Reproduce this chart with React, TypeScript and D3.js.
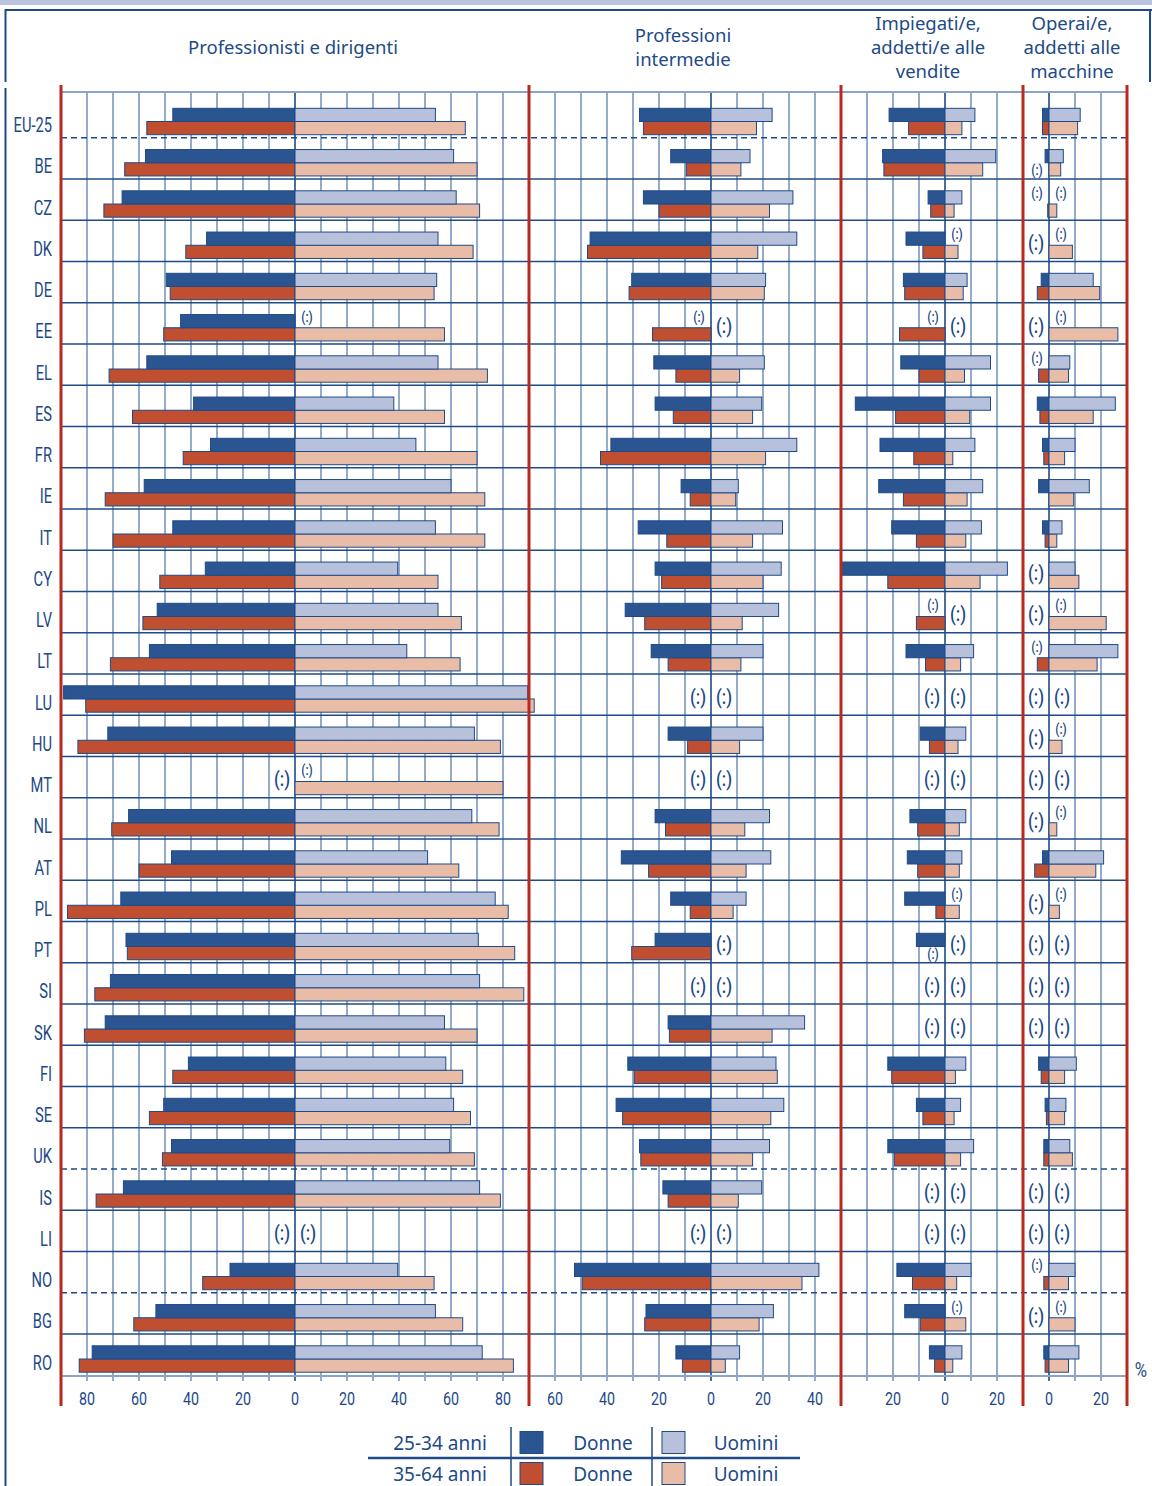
import React from "react";
import * as d3 from "d3";

// ---------- DATA ----------
const countries = [
  "EU-25", "BE", "CZ", "DK", "DE", "EE", "EL", "ES", "FR", "IE", "IT", "CY", "LV", "LT", "LU",
  "HU", "MT", "NL", "AT", "PL", "PT", "SI", "SK", "FI", "SE", "UK", "IS", "LI", "NO", "BG", "RO",
];
const dashedAfter = ["EU-25", "UK", "NO"];

const panelTitles = [
  ["Professionisti e dirigenti"],
  ["Professioni", "intermedie"],
  ["Impiegati/e,", "addetti/e alle", "vendite"],
  ["Operai/e,", "addetti alle", "macchine"],
];
const panelDomains: [number, number][] = [[-90, 90], [-70, 50], [-40, 30], [-10, 30]];
const panelTicks = [
  [-80, -60, -40, -20, 0, 20, 40, 60, 80],
  [-60, -40, -20, 0, 20, 40],
  [-20, 0, 20],
  [0, 20],
];

type V = number | null;
const _ = null;

// Panel 1: Professionisti e dirigenti
const p1Women2534: V[] = [47, 57.5, 66.5, 34, 49.5, 44, 57, 39, 32.5, 58, 47, 34.5, 53, 56, 89, 72, _, 64, 47.5, 67, 65, 71, 73, 41, 50.5, 47.5, 66, _, 25, 53.5, 78];
const p1Men2534: V[] = [54, 61, 62, 55, 54.5, _, 55, 38, 46.5, 60, 54, 39.5, 55, 43, 89.5, 69, _, 68, 51, 77, 70.5, 71, 57.5, 58, 61, 59.5, 71, _, 39.5, 54, 72];
const p1Women3564: V[] = [57, 65.5, 73.5, 42, 48, 50.5, 71.5, 62.5, 43, 73, 70, 52, 58.5, 71, 80.5, 83.5, _, 70.5, 60, 87.5, 64.5, 77, 81, 47, 56, 51, 76.5, _, 35.5, 62, 83];
const p1Men3564: V[] = [65.5, 70, 71, 68.5, 53.5, 57.5, 74, 57.5, 70, 73, 73, 55, 64, 63.5, 92, 79, 80, 78.5, 63, 82, 84.5, 88, 70, 64.5, 67.5, 69, 79, _, 53.5, 64.5, 84];

// Panel 2: Professioni intermedie
const p2Women2534: V[] = [27.5, 15.5, 26, 46.5, 30.5, _, 22, 21.5, 38.5, 11.5, 28, 21.5, 33, 23, _, 16.5, _, 21.5, 34.5, 15.5, 21.5, _, 16.5, 32, 36.5, 27.5, 18.5, _, 52.5, 25, 13.5];
const p2Men2534: V[] = [23.5, 15, 31.5, 33, 21, _, 20.5, 19.5, 33, 10.5, 27.5, 27, 26, 20, _, 20, _, 22.5, 23, 13.5, _, _, 36, 25, 28, 22.5, 19.5, _, 41.5, 24, 11];
const p2Women3564: V[] = [26, 9.5, 20, 47.5, 31.5, 22.5, 13.5, 14.5, 42.5, 8, 17, 19, 25.5, 16.5, _, 9, _, 17.5, 24, 8, 30.5, _, 16, 29.5, 34, 27, 16.5, _, 49.5, 25.5, 11];
const p2Men3564: V[] = [17.5, 11.5, 22.5, 18, 20.5, _, 11, 16, 21, 9.5, 16, 20, 12, 11.5, _, 11, _, 13, 13.5, 8.5, _, _, 23.5, 25.5, 23, 16, 10.5, _, 35, 18.5, 5.5];

// Panel 3: Impiegati/e, addetti/e alle vendite
const p3Women2534: V[] = [21.5, 24, 6.5, 15, 16, _, 17, 34.5, 25, 25.5, 20.5, 40, _, 15, _, 9.5, _, 13.5, 14.5, 15.5, 11, _, _, 22, 11, 22, _, _, 18.5, 15.5, 6];
const p3Men2534: V[] = [11.5, 19.5, 6.5, _, 8.5, _, 17.5, 17.5, 11.5, 14.5, 14, 24, _, 11, _, 8, _, 8, 6.5, _, _, _, _, 8, 6, 11, _, _, 10, _, 6.5];
const p3Women3564: V[] = [14, 23.5, 5.5, 8.5, 15.5, 17.5, 10, 19, 12, 16, 11, 22, 11, 7.5, _, 6, _, 10.5, 10.5, 3.5, _, _, _, 20.5, 8.5, 19.5, _, _, 12.5, 9.5, 4];
const p3Men3564: V[] = [6.5, 14.5, 3.5, 5, 7, _, 7.5, 9.5, 3, 8.5, 8, 13.5, _, 6, _, 5, _, 5.5, 5.5, 5.5, _, _, _, 4, 3.5, 6, _, _, 4.5, 8, 3];

// Panel 4: Operai/e, addetti alle macchine
const p4Women2534: V[] = [2.5, 1.5, _, _, 3, _, _, 4.5, 2.5, 4, 2.5, _, _, _, _, _, _, _, 2.5, _, _, _, _, 4, 1.5, 2, _, _, _, _, 2];
const p4Men2534: V[] = [12, 5.5, _, _, 17, _, 8, 25.5, 10, 15.5, 5, 10, _, 26.5, _, _, _, _, 21, _, _, _, _, 10.5, 6.5, 8, _, _, 10, _, 11.5];
const p4Women3564: V[] = [2.5, _, 0.5, _, 4.5, _, 4, 3.5, 2, 0, 1.5, _, _, 4.5, _, _, _, _, 5.5, _, _, _, _, 3, 1, 2, _, _, 2, _, 1.5];
const p4Men3564: V[] = [11, 4.5, 3, 9, 19.5, 26.5, 7.5, 17, 6, 9.5, 3, 11.5, 22, 18.5, _, 5, _, 3, 18, 4, _, _, _, 6, 6, 9, _, _, 7.5, 10, 7.5];

const legendAges = ["25-34 anni", "35-64 anni"];
const legendSexes = ["Donne", "Uomini"];

const panelSeries = [
  { w1: p1Women2534, m1: p1Men2534, w2: p1Women3564, m2: p1Men3564 },
  { w1: p2Women2534, m1: p2Men2534, w2: p2Women3564, m2: p2Men3564 },
  { w1: p3Women2534, m1: p3Men2534, w2: p3Women3564, m2: p3Men3564 },
  { w1: p4Women2534, m1: p4Men2534, w2: p4Women3564, m2: p4Men3564 },
];

// ---------- STYLE ----------
const C = {
  text: "#1d4a87",
  darkBlue: "#2b5591",
  lightBlue: "#b8c1dc",
  red: "#c04f32",
  pink: "#e9bca8",
  barStroke: "#1e4a86",
  grid: "#5a7dae",
  sep: "#1f4a86",
  redLine: "#b8291f",
  band: "#b9c3dd",
};
const LEFT = 61;
const UNIT = 2.6;
const ROW_TOP = 96.5;
const ROW_H = 41.25;
const BAR_H = 13.2;
const TOP_OFF = 11.8;
const BOT_OFF = 25;
const GRID_TOP = 92;
const GRID_BOTTOM = 1376;
const RED_TOP = 85;
const RED_BOTTOM = 1406;
const condensedFont = "Roboto, 'Noto Sans', sans-serif";
const regularFont = "'Noto Sans', 'Open Sans', sans-serif";

function CText(props: {
  x: number; y: number; sx?: number; size: number; anchor?: string; weight?: number | string;
  family?: string; fill?: string; children: React.ReactNode;
}) {
  const { x, y, sx = 0.72, size, anchor = "middle", weight = 400, family = condensedFont, fill = C.text } = props;
  return (
    <text
      transform={`translate(${x},${y}) scale(${sx},1)`}
      textAnchor={anchor}
      dominantBaseline="central"
      fontFamily={family}
      fontSize={size}
      fontWeight={weight}
      fill={fill}
    >
      {props.children}
    </text>
  );
}

export default function App() {
  const yBand = d3
    .scaleBand<string>()
    .domain(countries)
    .range([ROW_TOP, ROW_TOP + ROW_H * countries.length])
    .paddingInner(0)
    .paddingOuter(0);

  let cursor = LEFT;
  const panels = panelDomains.map((dom, i) => {
    const w = (dom[1] - dom[0]) * UNIT;
    const scale = d3.scaleLinear().domain(dom).range([cursor, cursor + w]);
    cursor += w;
    return { dom, scale, series: panelSeries[i], ticks: panelTicks[i], title: panelTitles[i] };
  });
  const xStart = LEFT;
  const xEnd = cursor;
  const boundaries = [LEFT, ...panels.map((p) => p.scale.range()[1])];

  const titleLineYs: Record<number, number[]> = { 1: [46], 2: [34, 58], 3: [22, 46, 70] };

  return (
    <svg
      width={1152}
      height={1486}
      viewBox="0 0 1152 1486"
      style={{ position: "absolute", left: 0, top: 0, background: "#fff" }}
    >
      <rect x={0} y={0} width={1152} height={1486} fill="#fff" />
      {/* frame */}
      <rect x={0} y={0} width={1152} height={5} fill={C.band} />
      <line x1={5} x2={1152} y1={10} y2={10} stroke={C.sep} strokeWidth={2.2} />
      <line x1={5.5} x2={5.5} y1={9} y2={82} stroke={C.sep} strokeWidth={2} />
      <line x1={5.5} x2={5.5} y1={88} y2={1486} stroke={C.sep} strokeWidth={2} />
      <line x1={1150} x2={1150} y1={9} y2={82} stroke={C.sep} strokeWidth={2} />

      {/* titles */}
      {panels.map((p, i) => {
        const cx = i === 0 ? 293 : i === 1 ? 683 : i === 2 ? 928 : 1072;
        const ys = titleLineYs[p.title.length];
        return p.title.map((t, j) => (
          <text
            key={`t${i}-${j}`}
            x={cx}
            y={ys[j]}
            textAnchor="middle"
            dominantBaseline="central"
            fontFamily={regularFont}
            fontSize={18.5}
            fill={C.text}
          >
            {t}
          </text>
        ));
      })}

      {/* vertical grid */}
      {panels.map((p, i) =>
        d3.range(p.dom[0] + 10, p.dom[1], 10).map((v) => (
          <line
            key={`g${i}-${v}`}
            x1={p.scale(v)}
            x2={p.scale(v)}
            y1={GRID_TOP}
            y2={1381}
            stroke={v === 0 ? C.sep : C.grid}
            strokeWidth={v === 0 ? 1.6 : 1.3}
          />
        ))
      )}

      {/* horizontal lines */}
      <line x1={xStart} x2={xEnd} y1={GRID_TOP} y2={GRID_TOP} stroke="#8aa3c8" strokeWidth={2} />
      <line x1={xStart} x2={xEnd} y1={GRID_BOTTOM} y2={GRID_BOTTOM} stroke="#8aa3c8" strokeWidth={2} />
      {countries.slice(0, -1).map((c) => {
        const yy = (yBand(c) as number) + ROW_H;
        const dashed = dashedAfter.includes(c);
        return (
          <line
            key={`h${c}`}
            x1={xStart}
            x2={xEnd}
            y1={yy}
            y2={yy}
            stroke={C.sep}
            strokeWidth={dashed ? 1.6 : 1.3}
            strokeDasharray={dashed ? "6,4" : undefined}
          />
        );
      })}

      {/* bars */}
      {panels.map((p, i) =>
        countries.map((c, r) => {
          const y0 = yBand(c) as number;
          const s = p.series;
          const z = p.scale(0);
          const items: { v: V; side: number; top: boolean; fill: string }[] = [
            { v: s.w2[r], side: -1, top: false, fill: C.red },
            { v: s.m2[r], side: 1, top: false, fill: C.pink },
            { v: s.w1[r], side: -1, top: true, fill: C.darkBlue },
            { v: s.m1[r], side: 1, top: true, fill: C.lightBlue },
          ];
          return (
            <g key={`b${i}-${c}`}>
              {items.map((it, k) => {
                if (it.v === null || it.v <= 0) return null;
                const xe = p.scale(it.side * it.v);
                const x = Math.min(z, xe);
                const w = Math.abs(xe - z);
                return (
                  <rect
                    key={k}
                    x={x}
                    y={y0 + (it.top ? TOP_OFF : BOT_OFF)}
                    width={w}
                    height={BAR_H}
                    fill={it.fill}
                    stroke={C.barStroke}
                    strokeWidth={1}
                  />
                );
              })}
            </g>
          );
        })
      )}

      {/* missing-value markers */}
      {panels.map((p, i) =>
        countries.map((c, r) => {
          const y0 = yBand(c) as number;
          const s = p.series;
          const z = p.scale(0);
          const marks: React.ReactNode[] = [];
          const sides: [V, V, number][] = [
            [s.w1[r], s.w2[r], -1],
            [s.m1[r], s.m2[r], 1],
          ];
          sides.forEach(([top, bot, side], k) => {
            if (top === null && bot === null) {
              marks.push(
                <CText key={`big${k}`} x={z + side * 13} y={y0 + ROW_H / 2 + 2} size={21} sx={0.8} weight={500}>
                  (:)
                </CText>
              );
            } else {
              if (top === null)
                marks.push(
                  <CText key={`st${k}`} x={z + side * 12} y={y0 + TOP_OFF + BAR_H / 2 - 5} size={15} sx={0.8} weight={500}>
                    (:)
                  </CText>
                );
              if (bot === null)
                marks.push(
                  <CText key={`sb${k}`} x={z + side * 12} y={y0 + BOT_OFF + BAR_H / 2} size={15} sx={0.8} weight={500}>
                    (:)
                  </CText>
                );
            }
          });
          return <g key={`m${i}-${c}`}>{marks}</g>;
        })
      )}

      {/* red panel separators */}
      {boundaries.map((bx, i) => (
        <line key={`r${i}`} x1={bx} x2={bx} y1={RED_TOP} y2={RED_BOTTOM} stroke={C.redLine} strokeWidth={3} />
      ))}

      {/* row labels */}
      {countries.map((c) => (
        <CText key={`l${c}`} x={52} y={(yBand(c) as number) + 28} size={21} sx={0.7} anchor="end">
          {c}
        </CText>
      ))}

      {/* x tick labels */}
      {panels.map((p, i) =>
        p.ticks.map((t) => (
          <CText key={`x${i}-${t}`} x={p.scale(t)} y={1398} size={19} sx={0.75}>
            {String(Math.abs(t))}
          </CText>
        ))
      )}
      <CText x={1141} y={1370} size={21} sx={0.8}>
        %
      </CText>

      {/* legend */}
      <line x1={368} x2={800} y1={1458} y2={1458} stroke={C.sep} strokeWidth={2.5} />
      <line x1={511} x2={511} y1={1427} y2={1486} stroke={C.sep} strokeWidth={1.5} />
      <line x1={652} x2={652} y1={1427} y2={1486} stroke={C.sep} strokeWidth={1.5} />
      {legendAges.map((a, k) => {
        const cy = k === 0 ? 1442.5 : 1473.5;
        const fills = k === 0 ? [C.darkBlue, C.lightBlue] : [C.red, C.pink];
        return (
          <g key={`lg${k}`}>
            <text x={440} y={cy} textAnchor="middle" dominantBaseline="central" fontFamily={regularFont} fontSize={19} fill={C.text}>
              {a}
            </text>
            {legendSexes.map((sx, j) => (
              <g key={`ls${j}`}>
                <rect
                  x={j === 0 ? 520 : 662}
                  y={cy - 11}
                  width={23}
                  height={22}
                  fill={fills[j]}
                  stroke={C.barStroke}
                  strokeWidth={1}
                />
                <text
                  x={j === 0 ? 603 : 746}
                  y={cy}
                  textAnchor="middle"
                  dominantBaseline="central"
                  fontFamily={regularFont}
                  fontSize={19}
                  fill={C.text}
                >
                  {sx}
                </text>
              </g>
            ))}
          </g>
        );
      })}
    </svg>
  );
}
